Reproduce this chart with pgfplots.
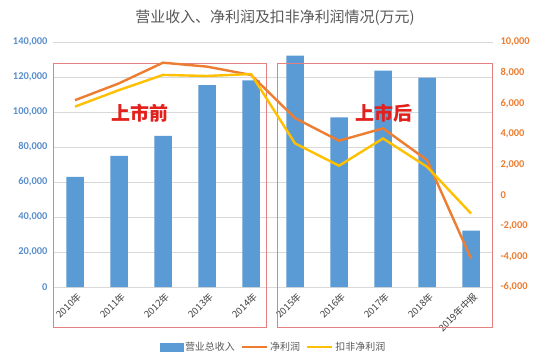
\documentclass[border=0pt]{standalone}
\usepackage{pgfplots}
\pgfplotsset{compat=1.18}
\usepackage{fontspec}
\setmainfont{Carlito}
\newfontfamily\cjk{Noto Sans CJK SC}
\definecolor{cblue}{HTML}{5B9BD5}
\definecolor{cbluetxt}{HTML}{5B8FCB}
\definecolor{corange}{HTML}{ED7D31}
\definecolor{cyellow}{HTML}{FFC000}
\definecolor{cgrid}{HTML}{D9D9D9}
\definecolor{ctext}{HTML}{595959}
\definecolor{cxtext}{HTML}{404040}
\definecolor{cbox}{HTML}{E58080}
\definecolor{cred}{HTML}{E3211C}
\begin{document}
\begin{tikzpicture}[x=1bp,y=1bp]
\path[use as bounding box, fill=white] (0,0) rectangle (550,363);
\node[text=ctext, font=\cjk\fontsize{15}{15}\selectfont] at (275,345) {营业收入、净利润及扣非净利润情况(万元)};
\begin{axis}[at={(53bp,76bp)}, anchor=south west, scale only axis,
  width=440bp, height=245bp,
  xmin=-0.5, xmax=9.5, ymin=0, ymax=140000,
  xtick={0,...,9},
  xticklabels={2010年,2011年,2012年,2013年,2014年,2015年,2016年,2017年,2018年,2019年中报},
  ytick={0,20000,...,140000},
  scaled y ticks=false,
  ymajorgrids, grid style={cgrid, line width=0.8bp},
  axis line style={draw=none}, tick style={draw=none},
  clip=false,
  yticklabel style={text=cbluetxt, font=\bfseries\fontsize{10.5}{10.5}\selectfont, xshift=-2bp},
  xticklabel style={xshift=5bp, yshift=-7bp, rotate=45, anchor=east, text=cxtext, font=\cjk\fontsize{9.5}{9.5}\selectfont, inner sep=1bp},
  /pgf/number format/fixed,
  /pgf/number format/1000 sep={,},
  /pgf/number format/assume math mode=true,
]
\addplot[ybar, bar width=17.5bp, fill=cblue, draw=none] coordinates {
  (0,62900) (1,75000) (2,86300) (3,115400) (4,118000)
  (5,132200) (6,97000) (7,123600) (8,119600) (9,32200)};
\draw[cbox, line width=0.7bp] (axis cs:-0.5,128000) rectangle (axis cs:4.36,-22857);
\draw[cbox, line width=0.7bp] (axis cs:4.61,128000) rectangle (axis cs:9.48,-22857);
\node[text=cred, font=\cjk\bfseries\fontsize{19}{19}\selectfont] at (axis cs:1.48,99400) {上市前};
\node[text=cred, font=\cjk\bfseries\fontsize{19}{19}\selectfont] at (axis cs:7.02,99400) {上市后};
\end{axis}
\begin{axis}[at={(53bp,76bp)}, anchor=south west, scale only axis,
  width=440bp, height=245bp,
  xmin=-0.5, xmax=9.5, ymin=-6000, ymax=10000,
  ytick={-6000,-4000,...,10000},
  scaled y ticks=false,
  axis y line*=right, axis x line=none,
  axis line style={draw=none}, tick style={draw=none},
  yticklabel style={text=corange, font=\bfseries\fontsize{10.5}{10.5}\selectfont, xshift=4bp},
  /pgf/number format/fixed,
  /pgf/number format/1000 sep={,},
  /pgf/number format/assume math mode=true,
  legend style={at={(0.501,-0.245)}, anchor=center, draw=none, fill=none,
    legend columns=3, font=\cjk\fontsize{10}{10}\selectfont, text=ctext,
    /tikz/every even column/.append style={column sep=4bp}},
]
\addlegendimage{legend image code/.code={\fill[cblue] (0bp,-4bp) rectangle (23bp,4bp);}}
\addlegendentry{营业总收入}
\addplot[corange, line width=2.4bp, legend image code/.code={\draw[corange, line width=2.4bp] (0bp,0bp) -- (25bp,0bp);}] coordinates {
  (0,6200) (1,7300) (2,8650) (3,8390) (4,7850)
  (5,5030) (6,3550) (7,4360) (8,2290) (9,-4140)};
\addlegendentry{净利润}
\addplot[cyellow, line width=2.4bp, legend image code/.code={\draw[cyellow, line width=2.4bp] (0bp,0bp) -- (25bp,0bp);}] coordinates {
  (0,5780) (1,6860) (2,7850) (3,7780) (4,7910)
  (5,3380) (6,1920) (7,3700) (8,1850) (9,-1200)};
\addlegendentry{扣非净利润}
\end{axis}
\end{tikzpicture}
\end{document}
